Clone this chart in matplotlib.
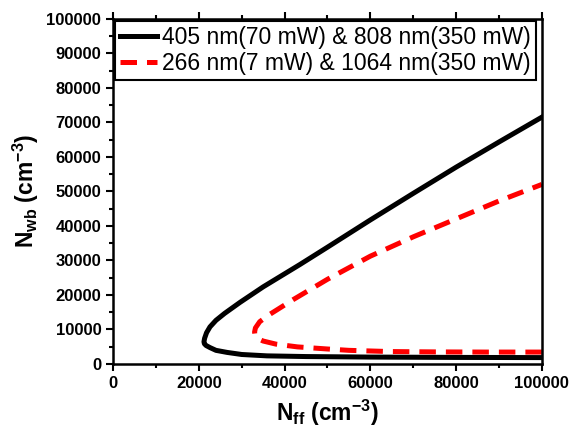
import matplotlib
matplotlib.use("Agg")
import matplotlib.pyplot as plt
from matplotlib.ticker import MultipleLocator

plt.rcParams['font.family'] = ['Liberation Sans', 'DejaVu Sans']
plt.rcParams['mathtext.fontset'] = 'custom'
plt.rcParams['mathtext.rm'] = 'Liberation Sans'
plt.rcParams['mathtext.it'] = 'Liberation Sans'
plt.rcParams['mathtext.bf'] = 'Liberation Sans:bold'

# 405 nm & 808 nm curve (lower branch from right to vertex, then upper branch)
nff_405 = [100000, 80000, 60000, 45000, 35900, 30000, 26600, 24000, 22600, 21700, 21300, 21200,
           21350, 21800, 22600, 24000, 26000, 29600, 35000, 43600, 50000, 60000, 70000, 80000, 90000, 100000]
nwb_405 = [1800, 1850, 1950, 2100, 2300, 2700, 3300, 3900, 4700, 5300, 5800, 6400,
           7400, 9000, 10700, 12600, 14600, 17800, 22300, 28800, 33800, 41700, 49400, 57000, 64300, 71500]

# 266 nm & 1064 nm curve
nff_266 = [100000, 87000, 75000, 64600, 55000, 49900, 43000, 38000, 35000, 33600, 33100, 33000,
           33200, 34200, 36500, 42000, 50000, 60000, 70000, 80000, 90000, 100000]
nwb_266 = [3400, 3400, 3450, 3550, 3900, 4300, 4900, 5700, 6600, 7400, 8200, 9200,
           10400, 12200, 14300, 18600, 24500, 31200, 36800, 42000, 47200, 52000]

fig = plt.figure(figsize=(5.71, 4.28), dpi=100)
ax = fig.add_axes([0.198, 0.150, 0.751, 0.806])

ax.plot(nff_405, nwb_405, color='black', lw=3.6,
        label='405 nm(70 mW) & 808 nm(350 mW)')
l2, = ax.plot(nff_266, nwb_266, color='red', lw=3.6,
              label='266 nm(7 mW) & 1064 nm(350 mW)')
l2.set_dashes((3.3, 2.0))

ax.set_xlim(0, 100000)
ax.set_ylim(0, 100000)
ax.xaxis.set_major_locator(MultipleLocator(20000))
ax.xaxis.set_minor_locator(MultipleLocator(10000))
ax.yaxis.set_major_locator(MultipleLocator(10000))
ax.yaxis.set_minor_locator(MultipleLocator(5000))
ax.tick_params(which='both', direction='out', width=1.5, labelsize=12,
               top=True, right=False)
ax.tick_params(which='major', length=5)
ax.tick_params(which='minor', length=3)
for lab in ax.get_xticklabels() + ax.get_yticklabels():
    lab.set_fontweight('bold')
for sp in ax.spines.values():
    sp.set_linewidth(1.8)

ax.set_xlabel(r'N$_{\mathbf{ff}}$ (cm$^{\mathbf{-3}}$)', fontsize=16.5, fontweight='bold', labelpad=5)
ax.set_ylabel(r'N$_{\mathbf{wb}}$ (cm$^{\mathbf{-3}}$)', fontsize=16.5, fontweight='bold', labelpad=4)

leg = ax.legend(loc='upper left', fontsize=16.5, frameon=True, fancybox=False,
                framealpha=1, edgecolor='black', handlelength=1.6, handletextpad=0.25,
                borderaxespad=0.1, borderpad=0.2, labelspacing=0.15)
leg.get_frame().set_linewidth(1.5)

fig.savefig('out.png', dpi=100)
